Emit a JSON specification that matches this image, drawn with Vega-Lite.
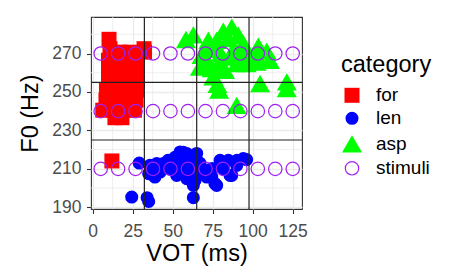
{
  "$schema": "https://vega.github.io/schema/vega-lite/v6.json",
  "width": 211,
  "height": 192,
  "autosize": {"type": "none"},
  "padding": {"left": 91, "top": 17, "right": 148, "bottom": 67},
  "background": "white",
  "config": {
    "font": "Liberation Sans",
    "view": {"stroke": "#333333", "strokeWidth": 1.1},
    "axis": {
      "domain": false,
      "grid": true,
      "gridColor": "#ebebeb",
      "gridWidth": 1.3,
      "tickColor": "#333333",
      "tickSize": 4.5,
      "tickWidth": 1.1,
      "labelFontSize": 17.5,
      "labelColor": "#4d4d4d",
      "titleFontSize": 23.5,
      "titleFontWeight": "normal",
      "titleColor": "black"
    },
    "legend": {
      "orient": "none",
      "legendX": 250,
      "legendY": 35.7,
      "padding": 0,
      "titleFontSize": 23.5,
      "titleFontWeight": "normal",
      "titleColor": "black",
      "titlePadding": 9.6,
      "labelFontSize": 19,
      "labelColor": "black",
      "labelOffset": 13,
      "rowPadding": 3,
      "symbolStrokeWidth": 1.2
    }
  },
  "datasets": {
    "minx": [{"VOT": 12.5}, {"VOT": 37.5}, {"VOT": 62.5}, {"VOT": 87.5}, {"VOT": 112.5}],
    "miny": [{"F0": 200}, {"F0": 220}, {"F0": 240}, {"F0": 260}, {"F0": 280}],
    "vlines": [{"VOT": 32.3}, {"VOT": 65}, {"VOT": 97.7}],
    "hlines": [{"F0": 225}, {"F0": 255}],
    "pts": [
      {"category": "for", "VOT": 10.2, "F0": 277.4},
      {"category": "for", "VOT": 32.1, "F0": 272.5},
      {"category": "for", "VOT": 10.8, "F0": 272.5},
      {"category": "for", "VOT": 17, "F0": 270.7},
      {"category": "for", "VOT": 23.3, "F0": 270.7},
      {"category": "for", "VOT": 32.4, "F0": 270.7},
      {"category": "for", "VOT": 9.9, "F0": 266.5},
      {"category": "for", "VOT": 17.7, "F0": 266.5},
      {"category": "for", "VOT": 25.2, "F0": 266.5},
      {"category": "for", "VOT": 28, "F0": 266.5},
      {"category": "for", "VOT": 9.9, "F0": 261.3},
      {"category": "for", "VOT": 17.1, "F0": 261.3},
      {"category": "for", "VOT": 23.9, "F0": 261.3},
      {"category": "for", "VOT": 28, "F0": 261.3},
      {"category": "for", "VOT": 9.9, "F0": 256.1},
      {"category": "for", "VOT": 17.1, "F0": 256.1},
      {"category": "for", "VOT": 23.9, "F0": 256.1},
      {"category": "for", "VOT": 28, "F0": 256.1},
      {"category": "for", "VOT": 8.6, "F0": 250.9},
      {"category": "for", "VOT": 15.8, "F0": 250.9},
      {"category": "for", "VOT": 22.7, "F0": 250.9},
      {"category": "for", "VOT": 27.4, "F0": 250.9},
      {"category": "for", "VOT": 8.3, "F0": 245.7},
      {"category": "for", "VOT": 15.8, "F0": 245.7},
      {"category": "for", "VOT": 22.7, "F0": 245.7},
      {"category": "for", "VOT": 27.1, "F0": 245.7},
      {"category": "for", "VOT": 6.3, "F0": 240.5},
      {"category": "for", "VOT": 13.3, "F0": 240.5},
      {"category": "for", "VOT": 20.8, "F0": 240.5},
      {"category": "for", "VOT": 26.1, "F0": 240.5},
      {"category": "for", "VOT": 13.9, "F0": 236.6},
      {"category": "for", "VOT": 18.3, "F0": 236.6},
      {"category": "for", "VOT": 12, "F0": 214.1},
      {"category": "len", "VOT": 24.4, "F0": 195.3},
      {"category": "len", "VOT": 34, "F0": 195},
      {"category": "len", "VOT": 35, "F0": 193},
      {"category": "len", "VOT": 62.9, "F0": 195},
      {"category": "len", "VOT": 29.1, "F0": 213},
      {"category": "len", "VOT": 35, "F0": 207.5},
      {"category": "len", "VOT": 35.9, "F0": 211.9},
      {"category": "len", "VOT": 40, "F0": 211},
      {"category": "len", "VOT": 38.9, "F0": 205.7},
      {"category": "len", "VOT": 42.1, "F0": 208.3},
      {"category": "len", "VOT": 44.1, "F0": 212.7},
      {"category": "len", "VOT": 47.1, "F0": 214.4},
      {"category": "len", "VOT": 48.3, "F0": 210.1},
      {"category": "len", "VOT": 51.4, "F0": 216},
      {"category": "len", "VOT": 54.6, "F0": 218.8},
      {"category": "len", "VOT": 58.75, "F0": 218},
      {"category": "len", "VOT": 56.6, "F0": 218.6},
      {"category": "len", "VOT": 54.6, "F0": 212.7},
      {"category": "len", "VOT": 52.5, "F0": 206.6},
      {"category": "len", "VOT": 57.7, "F0": 208.3},
      {"category": "len", "VOT": 58.75, "F0": 204.9},
      {"category": "len", "VOT": 60.8, "F0": 214.4},
      {"category": "len", "VOT": 62.9, "F0": 201.4},
      {"category": "len", "VOT": 64, "F0": 204.1},
      {"category": "len", "VOT": 65, "F0": 218},
      {"category": "len", "VOT": 63.9, "F0": 211},
      {"category": "len", "VOT": 67.1, "F0": 209.2},
      {"category": "len", "VOT": 71.3, "F0": 209.2},
      {"category": "len", "VOT": 71.3, "F0": 205.7},
      {"category": "len", "VOT": 74.4, "F0": 205.7},
      {"category": "len", "VOT": 74.6, "F0": 210.2},
      {"category": "len", "VOT": 76.4, "F0": 202.3},
      {"category": "len", "VOT": 77.5, "F0": 201.4},
      {"category": "len", "VOT": 79.6, "F0": 214.4},
      {"category": "len", "VOT": 81.6, "F0": 210.1},
      {"category": "len", "VOT": 84.8, "F0": 214.4},
      {"category": "len", "VOT": 85.8, "F0": 206.6},
      {"category": "len", "VOT": 86.9, "F0": 206.6},
      {"category": "len", "VOT": 90, "F0": 211.8},
      {"category": "len", "VOT": 90.2, "F0": 214.4},
      {"category": "len", "VOT": 94.1, "F0": 215.3},
      {"category": "len", "VOT": 96.2, "F0": 214.8},
      {"category": "len", "VOT": 40, "F0": 212.7},
      {"category": "len", "VOT": 60, "F0": 209},
      {"category": "len", "VOT": 67, "F0": 213},
      {"category": "asp", "VOT": 58.3, "F0": 277.3},
      {"category": "asp", "VOT": 62.9, "F0": 279.7},
      {"category": "asp", "VOT": 72.3, "F0": 276.9},
      {"category": "asp", "VOT": 81.6, "F0": 281.6},
      {"category": "asp", "VOT": 86.9, "F0": 283.7},
      {"category": "asp", "VOT": 91, "F0": 279.5},
      {"category": "asp", "VOT": 84.8, "F0": 277.8},
      {"category": "asp", "VOT": 77.5, "F0": 276.9},
      {"category": "asp", "VOT": 94.1, "F0": 275.2},
      {"category": "asp", "VOT": 103.5, "F0": 273.8},
      {"category": "asp", "VOT": 108.8, "F0": 271.2},
      {"category": "asp", "VOT": 71.3, "F0": 266.5},
      {"category": "asp", "VOT": 74.4, "F0": 262.2},
      {"category": "asp", "VOT": 75.4, "F0": 257.8},
      {"category": "asp", "VOT": 78, "F0": 254},
      {"category": "asp", "VOT": 79, "F0": 251},
      {"category": "asp", "VOT": 104.6, "F0": 254.4},
      {"category": "asp", "VOT": 121.3, "F0": 255.2},
      {"category": "asp", "VOT": 121.3, "F0": 251.8},
      {"category": "asp", "VOT": 90, "F0": 243},
      {"category": "asp", "VOT": 85.8, "F0": 268.2},
      {"category": "asp", "VOT": 90, "F0": 264.8},
      {"category": "asp", "VOT": 96.2, "F0": 264.8},
      {"category": "asp", "VOT": 102.5, "F0": 265.6},
      {"category": "asp", "VOT": 110.8, "F0": 266.5},
      {"category": "asp", "VOT": 82.7, "F0": 261.3},
      {"category": "asp", "VOT": 67, "F0": 263},
      {"category": "asp", "VOT": 71.3, "F0": 273.4},
      {"category": "asp", "VOT": 94.1, "F0": 269.1},
      {"category": "asp", "VOT": 102.5, "F0": 269.1},
      {"category": "asp", "VOT": 102.5, "F0": 271.7},
      {"category": "asp", "VOT": 88, "F0": 272},
      {"category": "asp", "VOT": 80, "F0": 270},
      {"category": "asp", "VOT": 76, "F0": 272},
      {"category": "asp", "VOT": 68, "F0": 269},
      {"category": "asp", "VOT": 98, "F0": 268},
      {"category": "asp", "VOT": 79, "F0": 265},
      {"category": "stimuli", "VOT": 5, "F0": 210},
      {"category": "stimuli", "VOT": 15.9, "F0": 210},
      {"category": "stimuli", "VOT": 26.8, "F0": 210},
      {"category": "stimuli", "VOT": 37.7, "F0": 210},
      {"category": "stimuli", "VOT": 48.6, "F0": 210},
      {"category": "stimuli", "VOT": 59.5, "F0": 210},
      {"category": "stimuli", "VOT": 70.5, "F0": 210},
      {"category": "stimuli", "VOT": 81.4, "F0": 210},
      {"category": "stimuli", "VOT": 92.3, "F0": 210},
      {"category": "stimuli", "VOT": 103.2, "F0": 210},
      {"category": "stimuli", "VOT": 114.1, "F0": 210},
      {"category": "stimuli", "VOT": 125, "F0": 210},
      {"category": "stimuli", "VOT": 5, "F0": 240},
      {"category": "stimuli", "VOT": 15.9, "F0": 240},
      {"category": "stimuli", "VOT": 26.8, "F0": 240},
      {"category": "stimuli", "VOT": 37.7, "F0": 240},
      {"category": "stimuli", "VOT": 48.6, "F0": 240},
      {"category": "stimuli", "VOT": 59.5, "F0": 240},
      {"category": "stimuli", "VOT": 70.5, "F0": 240},
      {"category": "stimuli", "VOT": 81.4, "F0": 240},
      {"category": "stimuli", "VOT": 92.3, "F0": 240},
      {"category": "stimuli", "VOT": 103.2, "F0": 240},
      {"category": "stimuli", "VOT": 114.1, "F0": 240},
      {"category": "stimuli", "VOT": 125, "F0": 240},
      {"category": "stimuli", "VOT": 5, "F0": 270},
      {"category": "stimuli", "VOT": 15.9, "F0": 270},
      {"category": "stimuli", "VOT": 26.8, "F0": 270},
      {"category": "stimuli", "VOT": 37.7, "F0": 270},
      {"category": "stimuli", "VOT": 48.6, "F0": 270},
      {"category": "stimuli", "VOT": 59.5, "F0": 270},
      {"category": "stimuli", "VOT": 70.5, "F0": 270},
      {"category": "stimuli", "VOT": 81.4, "F0": 270},
      {"category": "stimuli", "VOT": 92.3, "F0": 270},
      {"category": "stimuli", "VOT": 103.2, "F0": 270},
      {"category": "stimuli", "VOT": 114.1, "F0": 270},
      {"category": "stimuli", "VOT": 125, "F0": 270}
    ]
  },
  "layer": [
    {
      "data": {"name": "minx"},
      "mark": {"type": "rule", "color": "#ebebeb", "strokeWidth": 0.8},
      "encoding": {
        "x": {
          "field": "VOT", "type": "quantitative",
          "scale": {"domain": [-1.05, 130.8], "nice": false, "zero": false},
          "axis": {"title": "VOT (ms)", "values": [0, 25, 50, 75, 100, 125], "labelPadding": 8.5, "titleBaseline": "alphabetic", "titleY": 51}
        }
      }
    },
    {
      "data": {"name": "miny"},
      "mark": {"type": "rule", "color": "#ebebeb", "strokeWidth": 0.8},
      "encoding": {
        "y": {
          "field": "F0", "type": "quantitative",
          "scale": {"domain": [189.1, 289], "nice": false, "zero": false},
          "axis": {"title": "F0 (Hz)", "values": [190, 210, 230, 250, 270], "labelPadding": 5.5, "titleBaseline": "alphabetic", "titleAngle": -90, "titleX": -53.8}
        }
      }
    },
    {
      "data": {"name": "pts"},
      "mark": {"type": "point", "opacity": 1, "strokeWidth": 1.2},
      "encoding": {
        "x": {
          "field": "VOT", "type": "quantitative",
          "scale": {"domain": [-1.05, 130.8], "nice": false, "zero": false},
          "axis": {"title": "VOT (ms)", "values": [0, 25, 50, 75, 100, 125], "labelPadding": 8.5, "titleBaseline": "alphabetic", "titleY": 51}
        },
        "y": {
          "field": "F0", "type": "quantitative",
          "scale": {"domain": [189.1, 289], "nice": false, "zero": false},
          "axis": {"title": "F0 (Hz)", "values": [190, 210, 230, 250, 270], "labelPadding": 5.5, "titleBaseline": "alphabetic", "titleAngle": -90, "titleX": -53.8}
        },
        "fill": {
          "field": "category", "type": "nominal",
          "scale": {"domain": ["for", "len", "asp", "stimuli"], "range": ["#ff0000", "#0000ff", "#00ff00", "transparent"]},
          "legend": {"title": "category"}
        },
        "stroke": {
          "field": "category", "type": "nominal",
          "scale": {"domain": ["for", "len", "asp", "stimuli"], "range": ["transparent", "transparent", "transparent", "#a020f0"]},
          "legend": {"title": "category"}
        },
        "shape": {
          "field": "category", "type": "nominal",
          "scale": {"domain": ["for", "len", "asp", "stimuli"], "range": ["square", "circle", "triangle-up", "circle"]},
          "legend": {"title": "category"}
        },
        "size": {
          "field": "category", "type": "nominal",
          "scale": {"type": "ordinal", "domain": ["for", "len", "asp", "stimuli"], "range": [225, 170, 400, 180]},
          "legend": {"title": "category"}
        }
      }
    },
    {
      "data": {"name": "vlines"},
      "mark": {"type": "rule", "color": "#222222", "strokeWidth": 1.2},
      "encoding": {
        "x": {
          "field": "VOT", "type": "quantitative",
          "scale": {"domain": [-1.05, 130.8], "nice": false, "zero": false},
          "axis": {"title": "VOT (ms)", "values": [0, 25, 50, 75, 100, 125], "labelPadding": 8.5, "titleBaseline": "alphabetic", "titleY": 51}
        }
      }
    },
    {
      "data": {"name": "hlines"},
      "mark": {"type": "rule", "color": "#222222", "strokeWidth": 1.2},
      "encoding": {
        "y": {
          "field": "F0", "type": "quantitative",
          "scale": {"domain": [189.1, 289], "nice": false, "zero": false},
          "axis": {"title": "F0 (Hz)", "values": [190, 210, 230, 250, 270], "labelPadding": 5.5, "titleBaseline": "alphabetic", "titleAngle": -90, "titleX": -53.8}
        }
      }
    }
  ]
}
